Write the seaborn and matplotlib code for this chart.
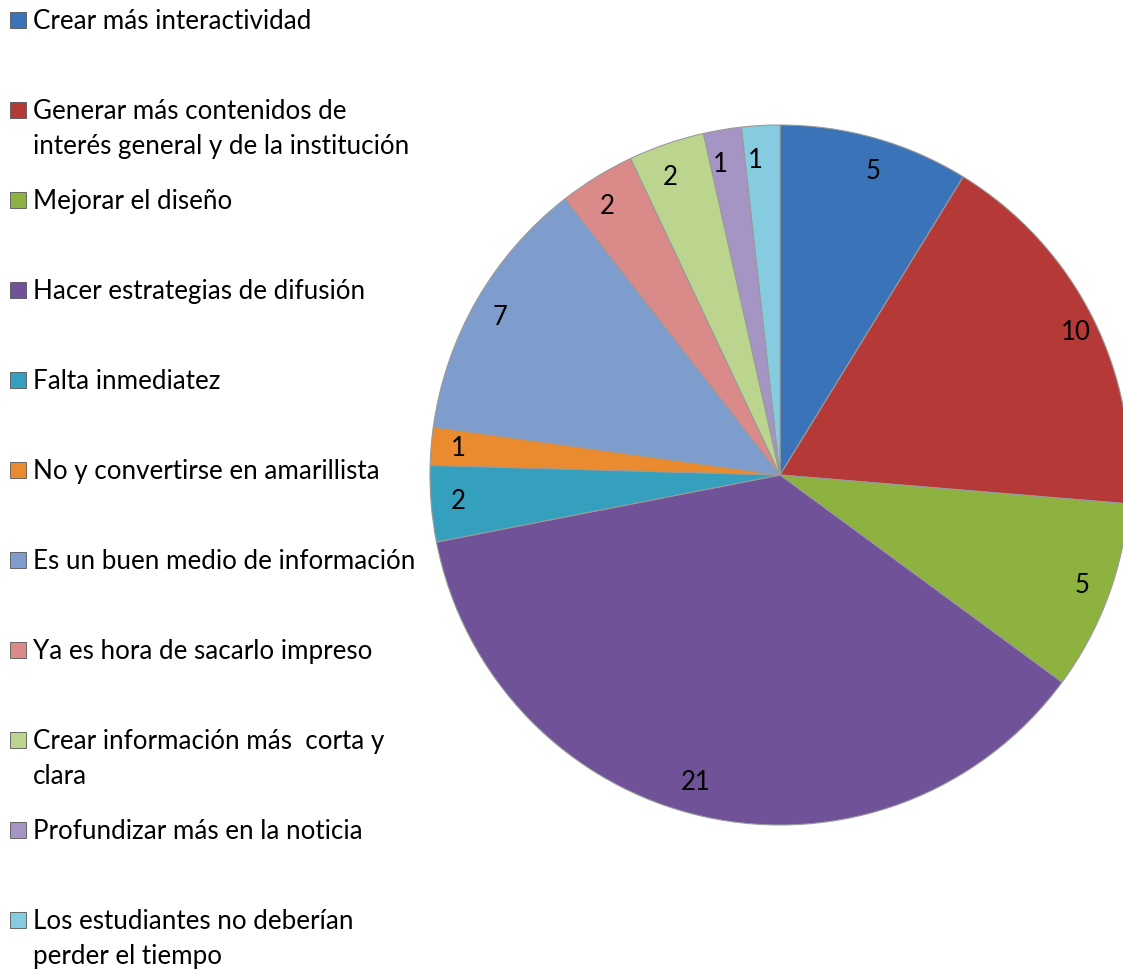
import matplotlib
matplotlib.use("Agg")
import matplotlib.pyplot as plt
import seaborn as sns
from matplotlib.patches import Rectangle

categories = [
    "Crear más interactividad",
    "Generar más contenidos de\ninterés general y de la institución",
    "Mejorar el diseño",
    "Hacer estrategias de difusión",
    "Falta inmediatez",
    "No y convertirse en amarillista",
    "Es un buen medio de información",
    "Ya es hora de sacarlo impreso",
    "Crear información más  corta y\nclara",
    "Profundizar más en la noticia",
    "Los estudiantes no deberían\nperder el tiempo",
]
values = [5, 10, 5, 21, 2, 1, 7, 2, 2, 1, 1]
colors = ["#3A73B8", "#B53A37", "#8DB23F", "#6F5297", "#35A0BE", "#E98B2E",
          "#7F9DCC", "#D98A89", "#BBD58F", "#A595C4", "#86CCE0"]

sns.set_theme(style="white")
plt.rcParams["font.family"] = ["Lato", "DejaVu Sans"]

W, H = 1123, 969
fig = plt.figure(figsize=(W / 100, H / 100), dpi=100)

# pie axes: center (780,475) px, radius 350 px
cx, cy, R = 780, 475, 350
lim = 1.03
half = R * lim
ax = fig.add_axes([(cx - half) / W, (H - cy - half) / H, 2 * half / W, 2 * half / H])
wedges, texts = ax.pie(values, colors=colors, startangle=90, counterclock=False,
                       labels=[str(v) for v in values], labeldistance=0.9,
                       wedgeprops=dict(edgecolor="#9a9a9a", linewidth=0.8),
                       textprops=dict(fontsize=18.5, color="black"))
ax.set_xlim(-lim, lim)
ax.set_ylim(-lim, lim)
ax.set_aspect("auto")
ax.axis("off")

# legend on the left
fs = 18.7
for i, (lab, col) in enumerate(zip(categories, colors)):
    yc = 20 + 90 * i
    fig.patches.append(Rectangle((10 / W, 1 - (yc + 8) / H), 16 / W, 16 / H,
                                 transform=fig.transFigure, facecolor=col,
                                 edgecolor="#555555", linewidth=0.6))
    fig.text(33 / W, 1 - (yc - 11) / H, lab, fontsize=fs, color="black",
             va="top", ha="left", linespacing=1.5)

fig.savefig("out.png", dpi=100)
